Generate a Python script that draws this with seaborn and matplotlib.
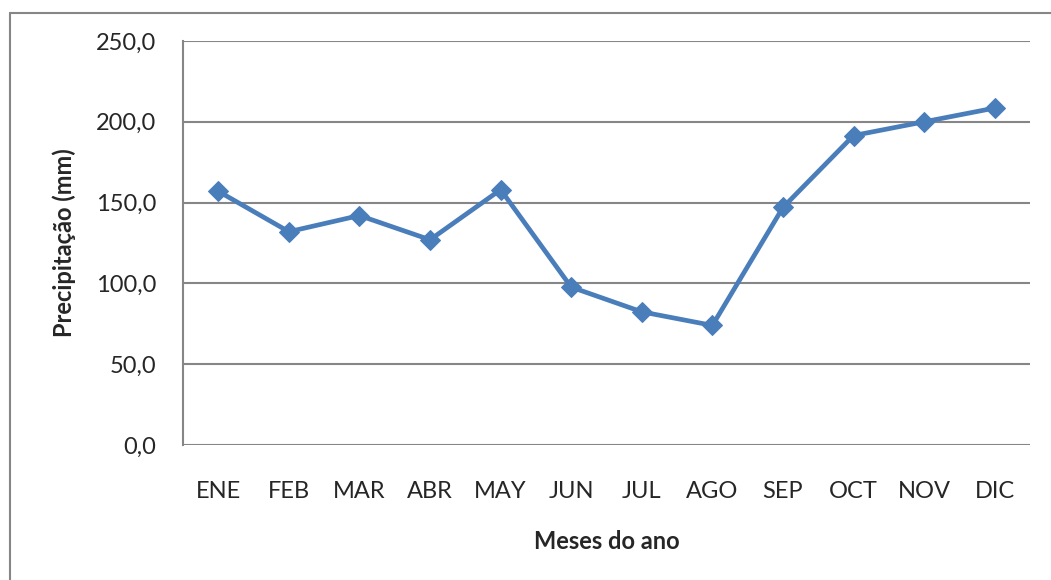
import matplotlib.pyplot as plt
import seaborn as sns
import pandas as pd
from matplotlib.ticker import FuncFormatter
from matplotlib.lines import Line2D

sns.set_style("white")
plt.rcParams['font.family'] = ['Lato', 'DejaVu Sans']

# precipitação mensal (mm)
meses = ["ENE", "FEB", "MAR", "ABR", "MAY", "JUN",
         "JUL", "AGO", "SEP", "OCT", "NOV", "DIC"]
precipitacao = [157, 132, 142, 127, 158, 97.7, 82.4, 74, 147, 191.5, 200, 208.5]

df = pd.DataFrame({"mes": meses, "precip": precipitacao})

fig = plt.figure(figsize=(10.51, 5.8), dpi=100)
ax = fig.add_axes([183 / 1051, 1 - 445 / 580, (1030 - 183) / 1051, (445 - 41) / 580])

sns.lineplot(data=df, x="mes", y="precip", sort=False, ax=ax,
             color="#4A7EBB", linewidth=3.4, marker="D", markersize=10,
             markeredgecolor="#4A7EBB")

ax.set_ylim(0, 250)
ax.set_xlim(-0.5, 11.5)
ax.set_yticks(range(0, 251, 50))
ax.yaxis.set_major_formatter(FuncFormatter(lambda v, p: f"{v:.1f}".replace(".", ",")))

gris = "#868686"
ax.grid(axis="y", color=gris, linewidth=1.5)
ax.grid(axis="x", visible=False)
for lado in ["top", "right", "bottom"]:
    ax.spines[lado].set_visible(False)
ax.spines["left"].set_color(gris)
ax.spines["left"].set_linewidth(1.5)
ax.tick_params(axis="y", length=6.5, width=1.5, color=gris, pad=13, labelsize=17)
ax.tick_params(axis="x", length=0, pad=26, labelsize=17)

ax.set_xlabel("Meses do ano", fontsize=17, fontweight="bold", labelpad=20)
ax.set_ylabel("Precipitação (mm)", fontsize=17, fontweight="bold", labelpad=14)

# borde del gráfico
fig.add_artist(Line2D([10 / 1051, 10 / 1051], [0, 1 - 13 / 580],
                      transform=fig.transFigure, color=gris, linewidth=1.5))
fig.add_artist(Line2D([10 / 1051, 1], [1 - 13 / 580, 1 - 13 / 580],
                      transform=fig.transFigure, color=gris, linewidth=1.5))

fig.savefig("out.png", dpi=100)
